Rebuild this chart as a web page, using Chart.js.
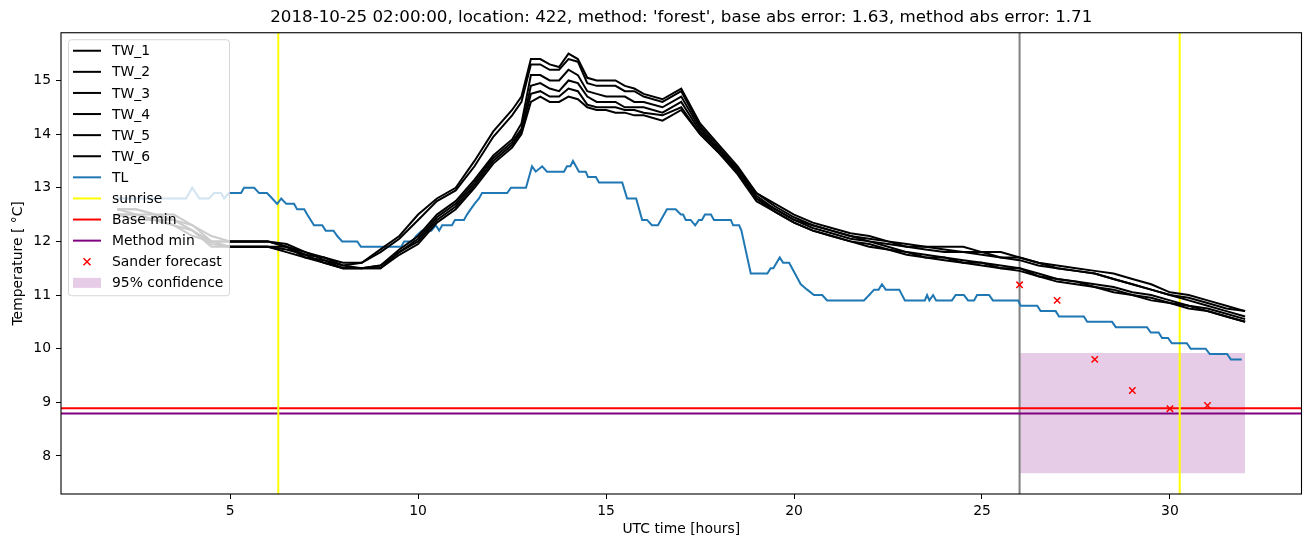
<!DOCTYPE html>
<html>
<head>
<meta charset="utf-8">
<script src="https://cdn.jsdelivr.net/npm/chart.js@4.4.0/dist/chart.umd.min.js"></script>
<style>
  body { margin: 0; background: #fff; }
</style>
</head>
<body>
<canvas id="tempChart" width="1311" height="547"></canvas>
<script>
// TL sensor (hours, degC)
const tlHours = [2.0, 3.83, 3.99, 4.18, 4.44, 4.57, 4.76, 4.84, 4.97, 5.29, 5.37, 5.64, 5.77, 5.98, 6.12, 6.25, 6.36, 6.49, 6.7, 6.78, 6.97, 7.05, 7.23, 7.45, 7.54, 7.75, 7.85, 7.98, 8.38, 8.48, 9.55, 9.63, 9.85, 9.95, 10.1, 10.35, 10.47, 10.56, 10.64, 10.9, 10.98, 11.22, 11.3, 11.4, 11.5, 11.62, 11.7, 12.37, 12.47, 12.87, 13.03, 13.13, 13.3, 13.43, 13.88, 13.96, 14.05, 14.12, 14.28, 14.46, 14.52, 14.73, 14.81, 15.43, 15.56, 15.8, 15.96, 16.09, 16.22, 16.38, 16.62, 16.85, 16.99, 17.05, 17.12, 17.25, 17.37, 17.47, 17.55, 17.63, 17.79, 17.87, 18.32, 18.38, 18.54, 18.6, 18.85, 19.29, 19.38, 19.45, 19.62, 19.71, 19.87, 20.18, 20.35, 20.53, 20.75, 20.88, 21.86, 22.0, 22.13, 22.25, 22.34, 22.44, 22.8, 22.95, 23.48, 23.54, 23.6, 23.7, 23.78, 24.2, 24.3, 24.52, 24.63, 24.79, 24.87, 25.19, 25.29, 25.96, 26.03, 26.47, 26.56, 26.96, 27.05, 27.71, 27.8, 28.46, 28.56, 29.39, 29.49, 29.7, 29.79, 29.95, 30.05, 30.45, 30.55, 30.95, 31.06, 31.52, 31.62, 31.91];
const tlTemps = [12.8, 12.8, 13.0, 12.8, 12.8, 12.9, 12.9, 12.8, 12.9, 12.9, 13.0, 13.0, 12.9, 12.9, 12.8, 12.7, 12.8, 12.7, 12.7, 12.6, 12.6, 12.5, 12.3, 12.3, 12.2, 12.2, 12.1, 12.0, 12.0, 11.9, 11.9, 12.0, 12.0, 12.1, 12.2, 12.2, 12.3, 12.2, 12.3, 12.3, 12.4, 12.4, 12.5, 12.6, 12.7, 12.8, 12.9, 12.9, 13.0, 13.0, 13.4, 13.3, 13.4, 13.3, 13.3, 13.4, 13.4, 13.5, 13.3, 13.3, 13.2, 13.2, 13.1, 13.1, 12.8, 12.8, 12.4, 12.4, 12.3, 12.3, 12.6, 12.6, 12.5, 12.5, 12.4, 12.4, 12.3, 12.4, 12.4, 12.5, 12.5, 12.4, 12.4, 12.3, 12.3, 12.2, 11.4, 11.4, 11.5, 11.5, 11.7, 11.6, 11.6, 11.2, 11.1, 11.0, 11.0, 10.9, 10.9, 11.0, 11.1, 11.1, 11.2, 11.1, 11.1, 10.9, 10.9, 11.0, 10.9, 11.0, 10.9, 10.9, 11.0, 11.0, 10.9, 10.9, 11.0, 11.0, 10.9, 10.9, 10.8, 10.8, 10.7, 10.7, 10.6, 10.6, 10.5, 10.5, 10.4, 10.4, 10.3, 10.3, 10.2, 10.2, 10.1, 10.1, 10.0, 10.0, 9.9, 9.9, 9.8, 9.8];

// TW sensors share one time base
const twHours = [2, 2.5, 3, 3.5, 4, 4.5, 5, 5.5, 6, 6.5, 7, 7.5, 8, 8.5, 9, 9.5, 10, 10.5, 11, 11.5, 12, 12.5, 12.75, 13, 13.25, 13.5, 13.75, 14, 14.25, 14.5, 14.75, 15, 15.25, 15.5, 15.75, 16, 16.5, 17, 17.5, 18, 18.5, 19, 19.5, 20, 20.5, 21, 21.5, 22, 22.5, 23, 23.5, 24, 24.5, 25, 25.5, 26, 26.5, 27, 27.5, 28, 28.5, 29, 29.5, 30, 30.5, 31, 31.5, 32];
const tw1 = [12.6, 12.6, 12.5, 12.5, 12.3, 12.1, 12.0, 12.0, 12.0, 11.95, 11.8, 11.7, 11.6, 11.6, 11.85,
  12.1, 12.5, 12.8, 13.0, 13.5, 14.05, 14.45, 14.7,
  15.4, 15.4, 15.3, 15.25, 15.5, 15.4, 15.05, 15.0, 15.0, 15.0, 14.9, 14.85, 14.75, 14.65, 14.85, 14.2, 13.8, 13.4, 12.9,
  12.7, 12.5, 12.35, 12.25, 12.15, 12.1, 12.0, 11.95, 11.9, 11.9, 11.9, 11.8, 11.8, 11.7, 11.6, 11.55, 11.5, 11.45, 11.4, 11.3, 11.2, 11.05, 11.0, 10.9, 10.8, 10.7];
const tw2 = [12.6, 12.5, 12.5, 12.4, 12.2, 12.0, 12.0, 12.0, 12.0, 11.9, 11.75, 11.7, 11.55, 11.6, 11.8,
  12.05, 12.4, 12.75, 12.95, 13.4, 13.95, 14.35, 14.6,
  15.3, 15.3, 15.2, 15.2, 15.4, 15.35, 14.95, 14.9, 14.9, 14.9, 14.8, 14.8, 14.7, 14.6, 14.8, 14.15, 13.75, 13.35, 12.9,
  12.65, 12.45, 12.3, 12.2, 12.1, 12.05, 12.0, 11.9, 11.9, 11.85, 11.8, 11.8, 11.7, 11.7, 11.6, 11.5, 11.45, 11.4, 11.3, 11.2, 11.1, 11.0, 10.95, 10.85, 10.75, 10.7];
const tw3 = [12.6, 12.6, 12.5, 12.4, 12.3, 12.0, 11.9, 11.9, 11.9, 11.9, 11.8, 11.65, 11.55, 11.5, 11.55,
  11.85, 12.1, 12.5, 12.75, 13.15, 13.6, 13.9, 14.2,
  15.1, 15.1, 15.0, 15.0, 15.2, 15.1, 14.8, 14.75, 14.7, 14.7, 14.7, 14.6, 14.6, 14.5, 14.7, 14.1, 13.7, 13.35, 12.85,
  12.6, 12.4, 12.3, 12.2, 12.1, 12.0, 11.95, 11.9, 11.85, 11.8, 11.8, 11.75, 11.7, 11.65, 11.55, 11.5, 11.45, 11.4, 11.3, 11.2, 11.1, 11.0, 10.9, 10.8, 10.7, 10.6];
const tw4 = [12.5, 12.5, 12.4, 12.4, 12.2, 11.95, 11.9, 11.9, 11.9, 11.85, 11.75, 11.6, 11.5, 11.5, 11.5,
  11.8, 12.05, 12.45, 12.7, 13.1, 13.55, 13.85, 14.1,
  14.9, 14.95, 14.85, 14.8, 15.0, 14.95, 14.7, 14.6, 14.6, 14.6, 14.5, 14.5, 14.5, 14.4, 14.6, 14.05, 13.7, 13.3, 12.8,
  12.6, 12.4, 12.25, 12.15, 12.05, 12.0, 11.9, 11.8, 11.75, 11.7, 11.65, 11.6, 11.55, 11.5, 11.4, 11.3, 11.25, 11.2, 11.15, 11.05, 11.0, 10.9, 10.8, 10.75, 10.65, 10.55];
const tw5 = [12.5, 12.5, 12.4, 12.3, 12.1, 12.0, 12.0, 12.0, 12.0, 11.9, 11.7, 11.65, 11.5, 11.5, 11.55,
  11.8, 12.0, 12.4, 12.65, 13.05, 13.5, 13.8, 14.05,
  14.75, 14.8, 14.7, 14.7, 14.85, 14.8, 14.55, 14.5, 14.5, 14.5, 14.45, 14.45, 14.4, 14.35, 14.5, 14.0, 13.65, 13.3, 12.8,
  12.55, 12.35, 12.2, 12.1, 12.0, 11.95, 11.85, 11.8, 11.7, 11.7, 11.6, 11.6, 11.5, 11.5, 11.35, 11.3, 11.25, 11.15, 11.1, 11.0, 10.95, 10.85, 10.8, 10.7, 10.6, 10.5];
const tw6 = [12.5, 12.4, 12.4, 12.3, 12.2, 11.9, 11.9, 11.9, 11.9, 11.8, 11.7, 11.6, 11.5, 11.5, 11.5,
  11.75, 11.95, 12.35, 12.6, 13.0, 13.45, 13.75, 14.0,
  14.6, 14.7, 14.6, 14.6, 14.7, 14.65, 14.5, 14.45, 14.45, 14.4, 14.4, 14.35, 14.35, 14.25, 14.45, 14.0, 13.65, 13.25, 12.75,
  12.55, 12.35, 12.2, 12.1, 12.0, 11.9, 11.85, 11.75, 11.7, 11.65, 11.6, 11.55, 11.5, 11.45, 11.35, 11.25, 11.2, 11.15, 11.05, 11.0, 10.9, 10.85, 10.75, 10.7, 10.6, 10.5];

const sunriseHours = [6.28, 30.26];
const forecastHour = 26;
const baseMin = 8.89;
const methodMin = 8.79;
const sanderHours = [26, 27, 28, 29, 30, 31];
const sanderTemps = [11.19, 10.9, 9.8, 9.22, 8.88, 8.94];
const confHours = [26, 32];
const confUpper = [9.92, 9.92];
const confLower = [7.675, 7.675];

const xTicks = [5, 10, 15, 20, 25, 30];
const yTicks = [8, 9, 10, 11, 12, 13, 14, 15];
const xMin = 0.5, xMax = 33.5;
const yMin = 7.29, yMax = 15.89;

const FONT = "'DejaVu Sans', sans-serif";
const LW = 2;

function pairs(xs, ys) {
  return xs.map((x, i) => ({ x: x, y: ys[i] }));
}

// vertical lines across the full axes height, split by a gap
function vlines(hours) {
  const pts = [];
  hours.forEach((h, i) => {
    if (i > 0) pts.push({ x: h, y: null });
    pts.push({ x: h, y: yMin }, { x: h, y: yMax });
  });
  return pts;
}

function hline(value) {
  return [{ x: xMin, y: value }, { x: xMax, y: value }];
}

const twSeries = [tw1, tw2, tw3, tw4, tw5, tw6];

const datasets = twSeries.map((vals, i) => ({
  label: "TW_" + (i + 1),
  data: pairs(twHours, vals),
  borderColor: "#000000",
  borderWidth: LW,
  legendKind: "line",
}));

datasets.push(
  { label: "TL", data: pairs(tlHours, tlTemps), borderColor: "#1f77b4", borderWidth: LW, legendKind: "line" },
  { label: "sunrise", data: vlines(sunriseHours), borderColor: "#ffff00", borderWidth: LW, legendKind: "line" },
  { label: "Base min", data: hline(baseMin), borderColor: "#ff0000", borderWidth: LW, legendKind: "line" },
  { label: "Method min", data: hline(methodMin), borderColor: "#800080", borderWidth: LW, legendKind: "line" },
  {
    label: "Sander forecast",
    data: pairs(sanderHours, sanderTemps),
    showLine: false,
    pointStyle: "crossRot",
    pointRadius: 4.5,
    pointBorderWidth: 1.5,
    pointBorderColor: "#ff0000",
    borderColor: "#ff0000",
    legendKind: "marker",
  },
  { label: "forecast time", data: vlines([forecastHour]), borderColor: "#808080", borderWidth: LW },
  {
    label: "95% confidence",
    data: pairs(confHours, confUpper),
    borderWidth: 0,
    borderColor: "rgba(0,0,0,0)",
    backgroundColor: "rgba(128,0,128,0.2)",
    fill: "+1",
    order: 10,
    legendKind: "patch",
  },
  { label: "conf lower", data: pairs(confHours, confLower), borderWidth: 0, borderColor: "rgba(0,0,0,0)", order: 11 }
);

// matplotlib-style legend drawn inside the axes
const insideLegend = {
  id: "insideLegend",
  afterDraw(chart) {
    const ctx = chart.ctx;
    const items = chart.data.datasets.filter((d) => d.legendKind);
    const x0 = chart.chartArea.left + 7;
    const y0 = chart.chartArea.top + 6.5;
    const rowH = 21.1;
    ctx.save();
    ctx.fillStyle = "rgba(255,255,255,0.8)";
    ctx.strokeStyle = "rgba(204,204,204,0.8)";
    ctx.lineWidth = 1;
    ctx.beginPath();
    ctx.roundRect(x0 + 0.5, y0 + 0.5, 161, 256, 3);
    ctx.fill();
    ctx.stroke();
    ctx.font = "13.9px " + FONT;
    ctx.textBaseline = "middle";
    items.forEach((d, i) => {
      const cy = y0 + 11.5 + i * rowH;
      if (d.legendKind === "line") {
        ctx.strokeStyle = d.borderColor;
        ctx.lineWidth = LW;
        ctx.beginPath();
        ctx.moveTo(x0 + 5, cy);
        ctx.lineTo(x0 + 33, cy);
        ctx.stroke();
      } else if (d.legendKind === "marker") {
        ctx.strokeStyle = d.pointBorderColor;
        ctx.lineWidth = 1.5;
        ctx.beginPath();
        ctx.moveTo(x0 + 15.5, cy - 3.5);
        ctx.lineTo(x0 + 22.5, cy + 3.5);
        ctx.moveTo(x0 + 22.5, cy - 3.5);
        ctx.lineTo(x0 + 15.5, cy + 3.5);
        ctx.stroke();
      } else {
        ctx.fillStyle = d.backgroundColor;
        ctx.fillRect(x0 + 5, cy - 5, 28, 10);
      }
      ctx.fillStyle = "#000000";
      ctx.fillText(d.label, x0 + 44, cy + 1);
    });
    ctx.restore();
  },
};

// full box around the axes
const axesFrame = {
  id: "axesFrame",
  afterDatasetsDraw(chart) {
    const { left, right, top, bottom } = chart.chartArea;
    const ctx = chart.ctx;
    ctx.save();
    ctx.strokeStyle = "#000000";
    ctx.lineWidth = 1.1;
    ctx.strokeRect(left, top, right - left, bottom - top);
    ctx.restore();
  },
};

new Chart(document.getElementById("tempChart"), {
  type: "line",
  data: { datasets: datasets },
  options: {
    responsive: false,
    animation: false,
    devicePixelRatio: 1,
    layout: { padding: { left: 0, right: 9.5, top: 0, bottom: 0 } },
    elements: {
      point: { radius: 0 },
      line: { tension: 0 },
    },
    plugins: {
      legend: { display: false },
      tooltip: { enabled: false },
      title: {
        display: true,
        fullSize: false,
        text: "2018-10-25 02:00:00, location: 422, method: 'forest', base abs error: 1.63, method abs error: 1.71",
        color: "#000000",
        font: { family: FONT, size: 16.7, weight: "normal" },
        padding: { top: 8, bottom: 4.7 },
      },
    },
    scales: {
      x: {
        type: "linear",
        min: xMin,
        max: xMax,
        afterFit: (scale) => { scale.height = 53; },
        afterBuildTicks: (scale) => { scale.ticks = xTicks.map((v) => ({ value: v })); },
        grid: { display: true, drawOnChartArea: false, tickLength: 5, color: "#000000" },
        border: { display: false },
        ticks: { color: "#000000", font: { family: FONT, size: 13.9 }, padding: 4, maxRotation: 0 },
        title: {
          display: true,
          text: "UTC time [hours]",
          color: "#000000",
          font: { family: FONT, size: 13.9 },
          padding: { top: 0, bottom: 9 },
        },
      },
      y: {
        type: "linear",
        min: yMin,
        max: yMax,
        afterFit: (scale) => { scale.width = 61; },
        afterBuildTicks: (scale) => { scale.ticks = yTicks.map((v) => ({ value: v })); },
        grid: { display: true, drawOnChartArea: false, tickLength: 5, color: "#000000" },
        border: { display: false },
        ticks: { color: "#000000", font: { family: FONT, size: 13.9 }, padding: 5 },
        title: {
          display: true,
          text: "Temperature [ °C]",
          color: "#000000",
          font: { family: FONT, size: 13.9 },
          padding: { top: 10, bottom: 0 },
        },
      },
    },
  },
  plugins: [axesFrame, insideLegend],
});
</script>
</body>
</html>
